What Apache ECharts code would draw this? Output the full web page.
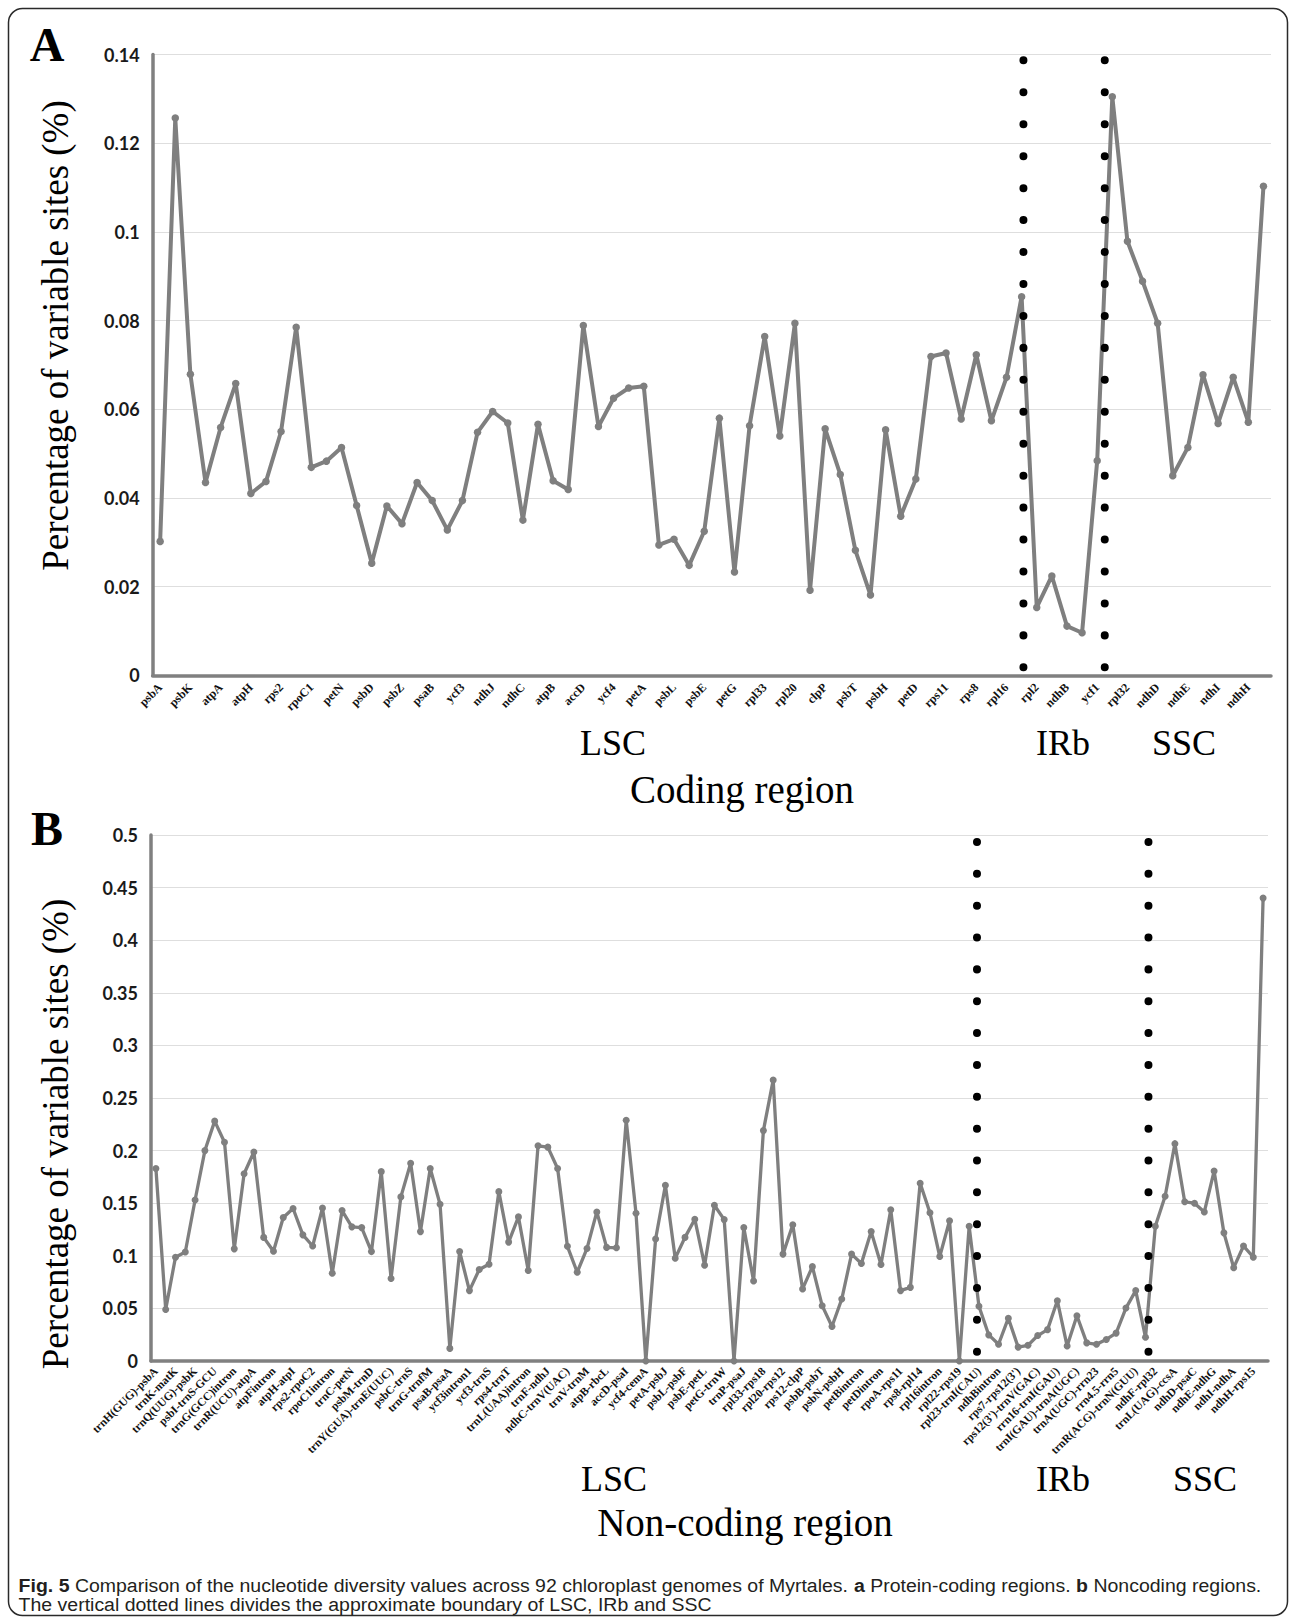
<!DOCTYPE html>
<html><head><meta charset="utf-8">
<script src="https://cdn.jsdelivr.net/npm/echarts@6/dist/echarts.min.js"></script>
<style>html,body{margin:0;padding:0;background:#fff}#c{width:1295px;height:1617px}</style>
</head><body><div id="c"></div>
<script>
// ---------- DATA ----------
const codingLabels = ['psbA','psbK','atpA','atpH','rps2','rpoC1','petN','psbD','psbZ','psaB','ycf3','ndhJ','ndhC','atpB','accD','ycf4','petA','psbL','psbE','petG','rpl33','rpl20','clpP','psbT','psbH','petD','rps11','rps8','rpl16','rpl2','ndhB','ycf1','rpl32','ndhD','ndhE','ndhI','ndhH'];
const codingValues = [0.0302,0.1257,0.0679,0.0435,0.0559,0.0658,0.0410,0.0437,0.0550,0.0785,
 0.0469,0.0483,0.0514,0.0383,0.0253,0.0382,0.0342,0.0435,0.0394,0.0328,
 0.0394,0.0548,0.0595,0.0569,0.0350,0.0566,0.0439,0.0419,0.0789,0.0561,
 0.0625,0.0648,0.0652,0.0294,0.0307,0.0248,0.0325,0.0580,0.0233,0.0563,
 0.0764,0.0540,0.0794,0.0192,0.0556,0.0453,0.0282,0.0181,0.0554,0.0359,
 0.0443,0.0719,0.0727,0.0578,0.0723,0.0574,0.0672,0.0854,0.0153,0.0224,
 0.0111,0.0096,0.0484,0.1305,0.0979,0.0889,0.0794,0.0450,0.0514,0.0678,
 0.0568,0.0672,0.0571,0.1103];
const noncodingLabels = ['trnH(GUG)-psbA','trnK-matK','trnQ(UUG)-psbK','psbI-trnS-GCU','trnG(GCC)intron','trnR(UCU)-atpA','atpFintron','atpH-atpI','rps2-rpoC2','rpoC1intron','trnC-petN','psbM-trnD','trnY(GUA)-trnE(UUC)','psbC-trnS','trnG-trnfM','psaB-psaA','ycf3intron1','ycf3-trnS','rps4-trnT','trnL(UAA)intron','trnF-ndhJ','ndhC-trnV(UAC)','trnV-trnM','atpB-rbcL','accD-psaI','ycf4-cemA','petA-psbJ','psbL-psbF','psbE-petL','petG-trnW','trnP-psaJ','rpl33-rps18','rpl20-rps12','rps12-clpP','psbB-psbT','psbN-psbH','petBintron','petDintron','rpoA-rps11','rps8-rpl14','rpl16intron','rpl22-rps19','rpl23-trnI(CAU)','ndhBintron',"rps7-rps12(3')","rps12(3')-trnV(GAC)",'rrn16-trnI(GAU)','trnI(GAU)-trnA(UGC)','trnA(UGC)-rrn23','rrn4.5-rrn5','trnR(ACG)-trnN(GUU)','ndhF-rpl32','trnL(UAG)-ccsA','ndhD-psaC','ndhE-ndhG','ndhI-ndhA','ndhH-rps15'];
const noncodingValues = [0.183,0.049,0.0987,0.1036,0.153,0.200,0.228,0.208,0.1066,0.178,
 0.1987,0.1175,0.1043,0.1364,0.145,0.1199,0.1093,0.1454,0.0834,0.143,
 0.1275,0.1268,0.104,0.180,0.0785,0.156,0.188,0.123,0.183,0.149,
 0.012,0.104,0.0669,0.087,0.092,0.161,0.113,0.137,0.086,0.2046,
 0.2033,0.183,0.109,0.0844,0.107,0.1417,0.108,0.1076,0.2288,0.1404,
 0,0.1159,0.167,0.0977,0.1175,0.1348,0.091,0.148,0.1344,0,
 0.1268,0.076,0.219,0.267,0.1016,0.1295,0.0685,0.0897,0.0526,0.0328,
 0.0589,0.1016,0.0927,0.123,0.0917,0.1437,0.0669,0.070,0.169,0.141,
 0.0993,0.1334,0,0.128,0.052,0.0248,0.0159,0.0407,0.0132,0.0149,
 0.0242,0.0298,0.0573,0.0142,0.043,0.0172,0.0159,0.0205,0.0265,0.0503,
 0.0669,0.0225,0.128,0.1566,0.2066,0.1513,0.150,0.1417,0.1805,0.1218,
 0.0887,0.1093,0.0987,0.440];
const codingYTicks = [0,0.02,0.04,0.06,0.08,0.1,0.12,0.14];
const noncodingYTicks = [0,0.05,0.1,0.15,0.2,0.25,0.3,0.35,0.4,0.45,0.5];
const regionNames = ['LSC','IRb','SSC'];
const codingBoundaries = [57.12, 62.5];      // category positions of dotted lines
const noncodingBoundaries = [83.8, 101.3];
const codingDotRange = [0.0018, 0.1387];     // value span of dotted lines
const noncodingDotRange = [0.0089, 0.4934];
const dotCount = {coding: 20, noncoding: 17};

// ---------- build ----------
function cats(labels, n){ const a=[]; for(let i=0;i<n;i++) a.push(i%2===0 ? (labels[i/2]||'') : ''); return a; }
const catA = cats(codingLabels, codingValues.length);
const catB = cats(noncodingLabels, noncodingValues.length);

const serif = "'Liberation Serif','Times New Roman',serif";
const tickFont = "Lato, 'Open Sans', sans-serif";
const gray = '#7f7f7f';

const gridA = {left:152.6, top:54.6, width:1118.4, height:620.7};
const gridB = {left:151, top:835, width:1117, height:526};

function yAxisCfg(gi, ticks){
  return {type:'value', gridIndex:gi, min:ticks[0], max:ticks[ticks.length-1], interval:ticks[1]-ticks[0],
    axisLine:{show:true, onZero:false, lineStyle:{color:'#808080', width:3.5}}, axisTick:{show:false},
    axisLabel:{fontFamily:tickFont, fontWeight:'bold', fontSize:18, color:'#1a1a1a', margin:13},
    splitLine:{lineStyle:{color:'#dedede', width:1}}};
}
function xCatCfg(gi, data, fs, margin){
  return {type:'category', gridIndex:gi, data:data, boundaryGap:true,
    axisLine:{show:true, onZero:false, lineStyle:{color:'#808080', width:3.5}}, axisTick:{show:false},
    axisLabel:{interval:0, rotate:45, fontFamily:serif, fontWeight:'bold', fontSize:fs, color:'#111', margin:margin},
    splitLine:{show:false}};
}
function xValCfg(gi, n){ return {type:'value', gridIndex:gi, min:-0.5, max:n-0.5, show:false, splitLine:{show:false}, axisLine:{onZero:false}}; }

function lineSeries(xi, yi, data, w, s){
  return {type:'line', xAxisIndex:xi, yAxisIndex:yi, data:data, symbol:'circle', symbolSize:s,
    lineStyle:{color:gray, width:w}, itemStyle:{color:gray}, animation:false, z:3};
}
function dotSeries(xi, yi, xs, range, count, grid, ticks){
  const spanPx = (range[1]-range[0]) / (ticks[ticks.length-1]-ticks[0]) * grid.height;
  const gap = spanPx/(count-1);
  return xs.map(x => ({type:'line', xAxisIndex:xi, yAxisIndex:yi, data:[[x,range[1]],[x,range[0]]],
    symbol:'none', silent:true, animation:false, z:6,
    lineStyle:{color:'#000', width:8, type:[0.01, gap-0.01], cap:'round'}}));
}

// caption: condensed by horizontal scaling
const capFamily = "'Liberation Sans', Arial, sans-serif";
const capSize = 19;
const capLine1Plain = 'Fig. 5 Comparison of the nucleotide diversity values across 92 chloroplast genomes of Myrtales. a Protein-coding regions. b Noncoding regions.';
const mctx = document.createElement('canvas').getContext('2d');
mctx.font = capSize + 'px ' + capFamily;
const capScale = 1252 / (mctx.measureText(capLine1Plain).width * 1.01);

function txt(x, y, text, size, opts){
  return {type:'text', x:x, y:y, silent:true,
    style:Object.assign({text:text, fontFamily:serif, fontSize:size, fill:'#000', align:'center', verticalAlign:'middle'}, opts||{})};
}

const chart = echarts.init(document.getElementById('c'), null, {renderer:'svg', width:1295, height:1617});
chart.setOption({
  animation:false,
  backgroundColor:'#fff',
  grid:[Object.assign({containLabel:false}, gridA), Object.assign({containLabel:false}, gridB)],
  xAxis:[xCatCfg(0, catA, 12, 10), xValCfg(0, codingValues.length), xCatCfg(1, catB, 11.5, 8), xValCfg(1, noncodingValues.length)],
  yAxis:[yAxisCfg(0, codingYTicks), yAxisCfg(1, noncodingYTicks)],
  series:[
    lineSeries(0, 0, codingValues, 4, 7.5),
    lineSeries(2, 1, noncodingValues, 3.3, 7),
    ...dotSeries(1, 0, codingBoundaries, codingDotRange, dotCount.coding, gridA, codingYTicks),
    ...dotSeries(3, 1, noncodingBoundaries, noncodingDotRange, dotCount.noncoding, gridB, noncodingYTicks)
  ],
  graphic:[
    {type:'rect', silent:true, shape:{x:8.5, y:8.5, width:1279, height:1607, r:14}, style:{fill:'none', stroke:'#2a2a2a', lineWidth:1.5}},
    txt(47, 44, 'A', 48, {fontWeight:'bold'}),
    txt(47, 828, 'B', 48, {fontWeight:'bold'}),
    {type:'text', x:55, y:335.5, rotation:Math.PI/2, silent:true, style:{text:'Percentage of variable sites (%)', fontFamily:serif, fontSize:37, fill:'#000', align:'center', verticalAlign:'middle'}},
    {type:'text', x:55, y:1134, rotation:Math.PI/2, silent:true, style:{text:'Percentage of variable sites (%)', fontFamily:serif, fontSize:37, fill:'#000', align:'center', verticalAlign:'middle'}},
    txt(613, 743, regionNames[0], 36), txt(1063, 743, regionNames[1], 36), txt(1184, 743, regionNames[2], 36),
    txt(742, 789, 'Coding region', 39),
    txt(614, 1479, regionNames[0], 36), txt(1063, 1479, regionNames[1], 36), txt(1205, 1479, regionNames[2], 36),
    txt(745, 1522, 'Non-coding region', 39),
    {type:'text', x:18.6, y:1586, scaleX:capScale, silent:true, style:{
      text:'{b|Fig. 5} Comparison of the nucleotide diversity values across 92 chloroplast genomes of Myrtales. {b|a} Protein-coding regions. {b|b} Noncoding regions.',
      fontFamily:capFamily, fontSize:capSize, fill:'#231f20', align:'left', verticalAlign:'middle',
      rich:{b:{fontFamily:capFamily, fontSize:capSize, fontWeight:'bold', fill:'#231f20'}}}},
    {type:'text', x:18.6, y:1604.5, scaleX:capScale, silent:true, style:{
      text:'The vertical dotted lines divides the approximate boundary of LSC, IRb and SSC',
      fontFamily:capFamily, fontSize:capSize, fill:'#231f20', align:'left', verticalAlign:'middle'}}
  ]
});
</script></body></html>
